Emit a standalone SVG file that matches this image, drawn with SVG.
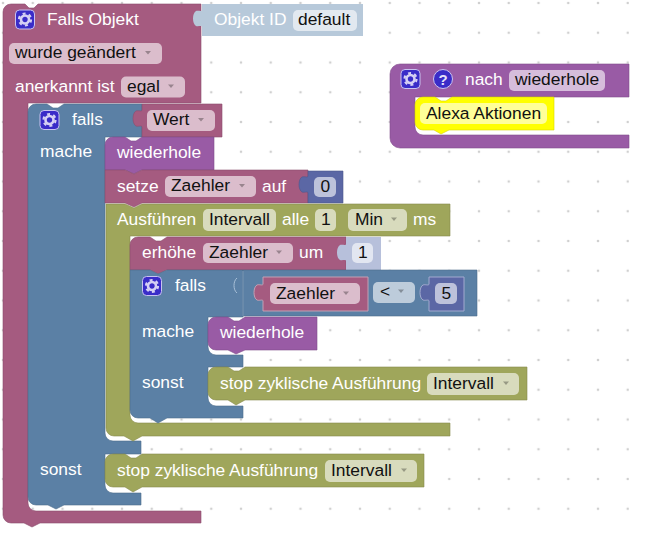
<svg xmlns="http://www.w3.org/2000/svg" xmlns:xlink="http://www.w3.org/1999/xlink" width="645" height="533" viewBox="0 0 645 533">
  <style>
    text { font-family: "Liberation Sans", Arial, sans-serif; font-size: 17.4px; }
    .w { fill: #fff; }
    .k { fill: #111; }
    .pink { fill: #a55b80; stroke: #8c4e6d; stroke-width: .6; }
    .blue { fill: #5b80a5; stroke: #4e6d8c; stroke-width: .6; }
    .olive { fill: #9fa65b; stroke: #888c4e; stroke-width: .6; }
    .purple { fill: #995ba5; stroke: #824e8c; stroke-width: .6; }
    .indigo { fill: #5b67a5; stroke: #4e588c; stroke-width: .6; }
    .pale { fill: #b7c9da; }
    .lilac { fill: #b7c0db; }
    .yellow { fill: #ffff00; stroke: #d6d600; stroke-width: .6; }
    .f { fill: #fff; fill-opacity: .6; }
    .a { fill: #000; fill-opacity: .3; }
    .gb { fill: #3a2cc8; stroke: #c9c2f0; stroke-width: 1; }
  </style>
  <defs>
    <pattern id="grid" patternUnits="userSpaceOnUse" x="-11.875" y="-11.875" width="29.75" height="29.75">
      <circle cx="14.875" cy="14.875" r="1.300" fill="#d0d0d0"/>
    </pattern>
    <g id="gear">
      <rect class="gb" x="-9.5" y="-9.5" width="19" height="19" rx="4"/>
      <circle r="4" fill="none" stroke="#d6d0f4" stroke-width="2.6"/>
      <circle r="6" fill="none" stroke="#d6d0f4" stroke-width="2.2" stroke-dasharray="3 3.28"/>
    </g>
    <path id="drop" d="M-3-1.5h6L0 2z"/>
  </defs>

  <rect x="0" y="0" width="645" height="533" fill="#fff"/>
  <rect x="0" y="0" width="629" height="515" fill="url(#grid)"/>

  <!-- every block carries its own outline; no free-standing wires -->
  <g id="connectors"></g>

  <g id="falls-objekt">
    <path class="pink" d="M3 12A8 8 0 0 1 11 4H25L29 8H34L38 4H201V103H28V503A8 8 0 0 0 36 511H201V523H40L32 527L24 523H11A8 8 0 0 1 3 515Z"/>
    <use xlink:href="#gear" href="#gear" x="25" y="19.5"/>
    <text class="w" x="47" y="25">Falls Objekt</text>
    <rect class="f" x="9" y="43" width="153" height="21" rx="5"/>
    <text class="k" x="15" y="58">wurde geändert</text>
    <use class="a" xlink:href="#drop" href="#drop" x="148" y="52.5"/>
    <text class="w" x="15" y="92">anerkannt ist</text>
    <rect class="f" x="121" y="76.500" width="64" height="21" rx="5"/>
    <text class="k" x="127" y="92">egal</text>
    <use class="a" xlink:href="#drop" href="#drop" x="171" y="86"/>
  </g>

  <g id="objekt-id">
    <path class="pale" d="M202 4H363V36H202V27C202 25 198 27 196 26C192 24 192 13 196 11C198 10 202 12 202 10Z"/>
    <text class="w" x="214" y="25">Objekt ID</text>
    <rect class="f" x="293" y="10" width="64" height="21" rx="5"/>
    <text class="k" x="298" y="25">default</text>
  </g>

  <g id="falls-outer">
    <path class="blue" d="M28 112A8 8 0 0 1 36 104H47L53 108H58L64 104H142V137H105V433A8 8 0 0 0 113 441H141V454H105V485A8 8 0 0 0 113 493H141V505H64L56 509L48 505H36A8 8 0 0 1 28 497Z"/>
    <use xlink:href="#gear" href="#gear" x="49.500" y="120"/>
    <text class="w" x="72" y="125">falls</text>
    <text class="w" x="40" y="157">mache</text>
    <text class="w" x="40" y="475">sonst</text>
  </g>

  <g id="wert">
    <path class="pink" d="M142 104H222V137H142V127C142 125 138 127 136 126C132 124 132 113 136 111C138 110 142 112 142 110Z"/>
    <rect class="f" x="147" y="110" width="68" height="21" rx="5"/>
    <text class="k" x="153" y="125">Wert</text>
    <use class="a" xlink:href="#drop" href="#drop" x="201" y="119.500"/>
  </g>

  <g id="wiederhole-outer">
    <path class="purple" d="M105 145A8 8 0 0 1 113 137H125L131 141H136L142 137H214V170H142L134 174L125 170H105Z"/>
    <text class="w" x="117" y="158">wiederhole</text>
  </g>

  <g id="setze">
    <path class="pink" d="M105 170H125L134 174L142 170H308V203H142L134 207L125 203H105Z"/>
    <text class="w" x="117" y="192">setze</text>
    <rect class="f" x="165" y="176" width="91" height="21" rx="5"/>
    <text class="k" x="171" y="191">Zaehler</text>
    <use class="a" xlink:href="#drop" href="#drop" x="242" y="185.500"/>
    <text class="w" x="262" y="192">auf</text>
  </g>

  <g id="null-wert">
    <path class="indigo" d="M308 171H343V203H308V193C308 191 304 193 302 192C298 190 298 179 302 177C304 176 308 178 308 176Z"/>
    <rect class="f" x="314" y="177" width="22" height="20" rx="5"/>
    <text class="k" x="320.500" y="192">0</text>
  </g>

  <g id="ausfuehren">
    <path class="olive" d="M106 204H125L134 208L142 204H450V236H130V415A8 8 0 0 0 138 423H450V436H142L133 441L124 436H114A8 8 0 0 1 106 428Z"/>
    <text class="w" x="117" y="225">Ausführen</text>
    <rect class="f" x="203" y="209" width="73" height="22" rx="5"/>
    <text class="k" x="209" y="225">Intervall</text>
    <text class="w" x="282" y="225">alle</text>
    <rect class="f" x="315" y="209" width="21" height="22" rx="5"/>
    <text class="k" x="321" y="225">1</text>
    <rect class="f" x="348" y="209" width="59" height="22" rx="5"/>
    <text class="k" x="355" y="225">Min</text>
    <use class="a" xlink:href="#drop" href="#drop" x="394" y="219"/>
    <text class="w" x="413" y="225">ms</text>
  </g>

  <g id="erhoehe">
    <path class="pink" d="M130 245A8 8 0 0 1 138 237H150L156 241H161L167 237H346V270H167L158 274L150 270H130Z"/>
    <text class="w" x="142" y="258">erhöhe</text>
    <rect class="f" x="203" y="243" width="90" height="20" rx="5"/>
    <text class="k" x="209" y="258">Zaehler</text>
    <use class="a" xlink:href="#drop" href="#drop" x="279" y="252"/>
    <text class="w" x="299" y="258">um</text>
  </g>

  <g id="eins-wert">
    <path class="lilac" d="M346 237H381V270H346V261C346 259 342 261 340 260C336 258 336 247 340 245C342 244 346 246 346 244Z"/>
    <rect class="f" x="352" y="243" width="21" height="20" rx="5"/>
    <text class="k" x="358" y="258">1</text>
  </g>

  <g id="falls-inner">
    <path class="blue" d="M130 270H150L158 274L167 270H243V317H208V347A8 8 0 0 0 216 355H243V367H208V398A8 8 0 0 0 216 406H243V418H167L158 423L150 418H138A8 8 0 0 1 130 410Z"/>
    <use xlink:href="#gear" href="#gear" x="152" y="286"/>
    <text class="w" x="175" y="291">falls</text>
    <text class="w" x="142" y="337">mache</text>
    <text class="w" x="142" y="388">sonst</text>
  </g>

  <g id="vergleich">
    <path class="blue" d="M243 270H477V316H243Z"/>
    <path d="M237 278C233 281 233 290 237 293" fill="none" stroke="#a9c0d8" stroke-width="1"/>
    <path d="M243 271V316" fill="none" stroke="#7f9cba" stroke-width="1"/>
  </g>

  <g id="zaehler-wert">
    <path class="pink" style="stroke:#c3a0b4;stroke-width:1" d="M263 277H368V311H263V301C263 299 259 301 257 300C253 298 253 287 257 285C259 284 263 286 263 284Z"/>
    <rect class="f" x="270" y="283" width="90" height="21" rx="5"/>
    <text class="k" x="276" y="299">Zaehler</text>
    <use class="a" xlink:href="#drop" href="#drop" x="346" y="293"/>
  </g>

  <g id="operator">
    <rect class="f" x="373" y="282" width="42" height="21" rx="5"/>
    <text class="k" x="380" y="297">&lt;</text>
    <use class="a" xlink:href="#drop" href="#drop" x="401" y="291"/>
  </g>

  <g id="fuenf-wert">
    <path class="indigo" style="stroke:#a3aacf;stroke-width:1" d="M429 277H464V311H429V301C429 299 425 301 423 300C419 298 419 287 423 285C425 284 429 286 429 284Z"/>
    <rect class="f" x="435" y="283" width="22" height="21" rx="5"/>
    <text class="k" x="441.500" y="299">5</text>
  </g>

  <g id="wiederhole-inner">
    <path class="purple" d="M208 325A8 8 0 0 1 216 317H228L234 321H239L245 317H317V350H245L236 354L228 350H216A8 8 0 0 1 208 342Z"/>
    <text class="w" x="220" y="338">wiederhole</text>
  </g>

  <g id="stop-inner">
    <path class="olive" d="M208 375A8 8 0 0 1 216 367H228L234 371H239L245 367H527V400H245L236 405L228 400H216A8 8 0 0 1 208 392Z"/>
    <text class="w" x="220" y="389">stop zyklische Ausführung</text>
    <rect class="f" x="427" y="373" width="92" height="22" rx="5"/>
    <text class="k" x="433" y="389">Intervall</text>
    <use class="a" xlink:href="#drop" href="#drop" x="506" y="383"/>
  </g>

  <g id="stop-outer">
    <path class="olive" d="M105 462A8 8 0 0 1 113 454H125L131 458H136L142 454H424V487H142L133 492L125 487H113A8 8 0 0 1 105 479Z"/>
    <text class="w" x="117" y="476">stop zyklische Ausführung</text>
    <rect class="f" x="325" y="460" width="92" height="22" rx="5"/>
    <text class="k" x="331" y="476">Intervall</text>
    <use class="a" xlink:href="#drop" href="#drop" x="404" y="470"/>
  </g>

  <g id="nach-wiederhole">
    <path class="purple" d="M629 64H400A10 10 0 0 0 390 74V138A10 10 0 0 0 400 148H629V135H423A8 8 0 0 1 415 127V97H629Z"/>
    <use xlink:href="#gear" href="#gear" x="410.500" y="79"/>
    <circle cx="443" cy="79" r="9.500" fill="#3a2cc8" stroke="#c9c2f0" stroke-width="1"/>
    <text x="443" y="84.500" text-anchor="middle" style="font-size:15px;font-weight:700" fill="#e4e0fa">?</text>
    <text class="w" x="465" y="85">nach</text>
    <rect class="f" x="509" y="70" width="96" height="21" rx="5"/>
    <text class="k" x="515" y="85">wiederhole</text>
  </g>

  <g id="alexa-aktionen">
    <path class="yellow" d="M415 105A8 8 0 0 1 423 97H435L441 101H446L452 97H554V130H449L441 134L434 130H423A8 8 0 0 1 415 122Z"/>
    <rect class="f" x="420" y="103" width="127" height="21" rx="5"/>
    <text class="k" x="426" y="119">Alexa Aktionen</text>
  </g>
</svg>
